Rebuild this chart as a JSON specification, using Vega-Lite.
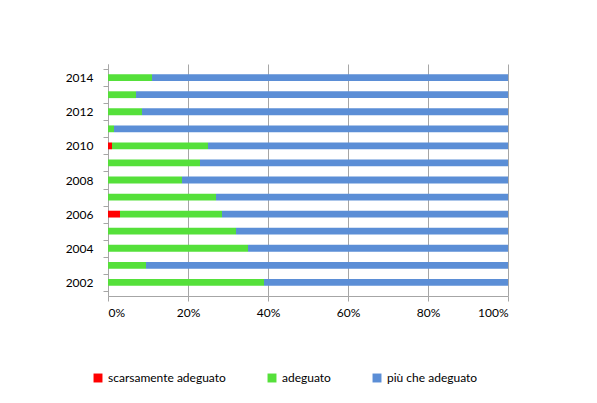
{
  "$schema": "https://vega.github.io/schema/vega-lite/v6.json",
  "width": 400,
  "height": 232,
  "autosize": {"type": "none"},
  "padding": {"left": 108, "top": 64, "right": 89, "bottom": 107},
  "background": "white",
  "data": {
    "values": [
      {"anno": "2014", "giudizio": "scarsamente adeguato", "quota": 0},
      {"anno": "2014", "giudizio": "adeguato", "quota": 11},
      {"anno": "2014", "giudizio": "più che adeguato", "quota": 89},
      {"anno": "2013", "giudizio": "scarsamente adeguato", "quota": 0},
      {"anno": "2013", "giudizio": "adeguato", "quota": 7},
      {"anno": "2013", "giudizio": "più che adeguato", "quota": 93},
      {"anno": "2012", "giudizio": "scarsamente adeguato", "quota": 0},
      {"anno": "2012", "giudizio": "adeguato", "quota": 8.5},
      {"anno": "2012", "giudizio": "più che adeguato", "quota": 91.5},
      {"anno": "2011", "giudizio": "scarsamente adeguato", "quota": 0},
      {"anno": "2011", "giudizio": "adeguato", "quota": 1.5},
      {"anno": "2011", "giudizio": "più che adeguato", "quota": 98.5},
      {"anno": "2010", "giudizio": "scarsamente adeguato", "quota": 1},
      {"anno": "2010", "giudizio": "adeguato", "quota": 24},
      {"anno": "2010", "giudizio": "più che adeguato", "quota": 75},
      {"anno": "2009", "giudizio": "scarsamente adeguato", "quota": 0},
      {"anno": "2009", "giudizio": "adeguato", "quota": 23},
      {"anno": "2009", "giudizio": "più che adeguato", "quota": 77},
      {"anno": "2008", "giudizio": "scarsamente adeguato", "quota": 0},
      {"anno": "2008", "giudizio": "adeguato", "quota": 18.5},
      {"anno": "2008", "giudizio": "più che adeguato", "quota": 81.5},
      {"anno": "2007", "giudizio": "scarsamente adeguato", "quota": 0},
      {"anno": "2007", "giudizio": "adeguato", "quota": 27},
      {"anno": "2007", "giudizio": "più che adeguato", "quota": 73},
      {"anno": "2006", "giudizio": "scarsamente adeguato", "quota": 3},
      {"anno": "2006", "giudizio": "adeguato", "quota": 25.5},
      {"anno": "2006", "giudizio": "più che adeguato", "quota": 71.5},
      {"anno": "2005", "giudizio": "scarsamente adeguato", "quota": 0},
      {"anno": "2005", "giudizio": "adeguato", "quota": 32},
      {"anno": "2005", "giudizio": "più che adeguato", "quota": 68},
      {"anno": "2004", "giudizio": "scarsamente adeguato", "quota": 0},
      {"anno": "2004", "giudizio": "adeguato", "quota": 35},
      {"anno": "2004", "giudizio": "più che adeguato", "quota": 65},
      {"anno": "2003", "giudizio": "scarsamente adeguato", "quota": 0},
      {"anno": "2003", "giudizio": "adeguato", "quota": 9.5},
      {"anno": "2003", "giudizio": "più che adeguato", "quota": 90.5},
      {"anno": "2002", "giudizio": "scarsamente adeguato", "quota": 0},
      {"anno": "2002", "giudizio": "adeguato", "quota": 39},
      {"anno": "2002", "giudizio": "più che adeguato", "quota": 61}
    ]
  },
  "transform": [
    {"calculate": "indexof(['scarsamente adeguato','adeguato','più che adeguato'], datum.giudizio)", "as": "ordine"}
  ],
  "mark": {"type": "bar", "height": {"band": 0.4}},
  "encoding": {
    "y": {
      "field": "anno",
      "type": "ordinal",
      "sort": "descending",
      "title": null,
      "scale": {"paddingInner": 0, "paddingOuter": 0.3},
      "axis": {
        "labelExpr": "toNumber(datum.value) % 2 == 0 ? datum.label : ''",
        "domainColor": "#a6a6a6",
        "tickColor": "#a6a6a6",
        "tickSize": 5,
        "tickBand": "extent",
        "labelPadding": 10,
        "labelFontSize": 12,
        "labelColor": "#000000"
      }
    },
    "x": {
      "field": "quota",
      "type": "quantitative",
      "stack": "normalize",
      "title": null,
      "scale": {"domain": [0, 1], "nice": false},
      "axis": {
        "values": [0, 0.2, 0.4, 0.6, 0.8, 1],
        "format": "%",
        "grid": true,
        "gridColor": "#a6a6a6",
        "domainColor": "#a6a6a6",
        "tickColor": "#a6a6a6",
        "tickSize": 5,
        "labelPadding": 6,
        "labelFontSize": 12,
        "labelColor": "#000000"
      }
    },
    "color": {
      "field": "giudizio",
      "type": "nominal",
      "title": null,
      "scale": {
        "domain": ["scarsamente adeguato", "adeguato", "più che adeguato"],
        "range": ["#ff0000", "#55e03a", "#5b8ed6"]
      },
      "legend": {
        "orient": "none",
        "legendX": -16,
        "legendY": 308,
        "direction": "horizontal",
        "columns": 3,
        "columnPadding": 40,
        "symbolType": "square",
        "symbolSize": 80,
        "symbolStrokeWidth": 0,
        "labelFontSize": 12,
        "labelColor": "#000000",
        "labelLimit": 200
      }
    },
    "order": {"field": "ordine", "type": "quantitative"}
  },
  "config": {
    "font": "Lato",
    "view": {"stroke": null},
    "axis": {"labelFont": "Lato"},
    "legend": {"labelFont": "Lato"}
  }
}
